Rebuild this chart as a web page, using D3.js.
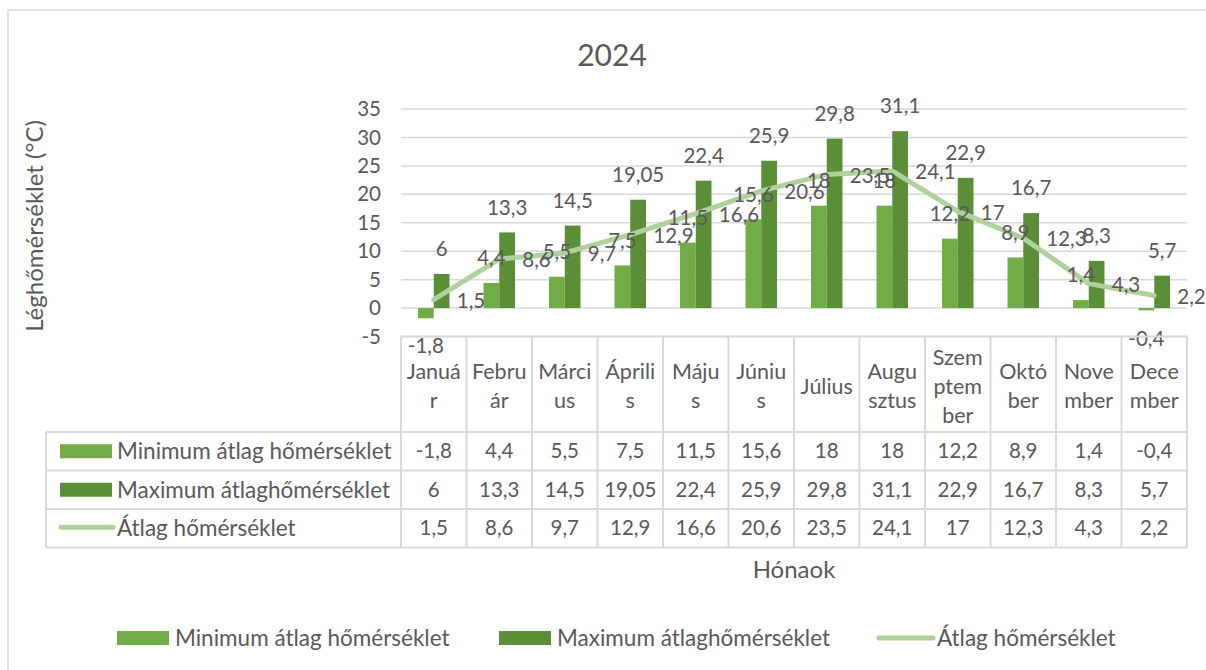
<!DOCTYPE html>
<html><head><meta charset="utf-8">
<script src="https://cdn.jsdelivr.net/npm/d3@7"></script>
<style>
html,body{margin:0;padding:0;background:#fff;}
svg{display:block;font-family:Lato,"Open Sans",sans-serif;}
</style></head>
<body>
<svg id="c" width="1206" height="670"></svg>
<script>
const title = "2024";
const months = ["Január","Február","Március","Április","Május","Június","Július","Augusztus","Szeptember","Október","November","December"];
const monthLines = [["Januá","r"],["Febru","ár"],["Márci","us"],["Áprili","s"],["Máju","s"],["Júniu","s"],["Július"],["Augu","sztus"],["Szem","ptem","ber"],["Októ","ber"],["Nove","mber"],["Dece","mber"]];
const seriesNames = ["Minimum átlag hőmérséklet","Maximum átlaghőmérséklet","Átlag hőmérséklet"];
const minTemp = [-1.8, 4.4, 5.5, 7.5, 11.5, 15.6, 18, 18, 12.2, 8.9, 1.4, -0.4];
const maxTemp = [6, 13.3, 14.5, 19.05, 22.4, 25.9, 29.8, 31.1, 22.9, 16.7, 8.3, 5.7];
const avgTemp = [1.5, 8.6, 9.7, 12.9, 16.6, 20.6, 23.5, 24.1, 17, 12.3, 4.3, 2.2];
const yTicks = [-5, 0, 5, 10, 15, 20, 25, 30, 35];
const yTitle = "Léghőmérséklet (°C)";
const xTitle = "Hónaok";

const colMin = "#70AD47", colMax = "#5B8F37", colAvg = "#B0D19C";
const txt = "#595959", grid = "#D9D9D9";
const fsNum = 20.5, fsCat = 21.5, fsName = 22.5, fsAxis = 24;
const fmt = v => String(v).replace(".", ",");

const svg = d3.select("#c");
// outer border
svg.append("rect").attr("x",8).attr("y",10).attr("width",1210).attr("height",680)
  .attr("fill","none").attr("stroke",grid).attr("stroke-width",1.5);

const L = 401, R = 1187;
const x = d3.scaleBand().domain(months).range([L, R]).padding(0);
const y = d3.scaleLinear().domain([-5, 35]).range([336.5, 109]);
const bw = 15.75;

// title
svg.append("text").attr("x", 612).attr("y", 66).attr("text-anchor","middle")
  .attr("font-size", 30).attr("fill", txt).text(title);

// gridlines
svg.append("g").selectAll("line").data(yTicks).join("line")
  .attr("x1", L).attr("x2", R).attr("y1", d=>y(d)).attr("y2", d=>y(d))
  .attr("stroke", grid).attr("stroke-width", 1.5);

// y axis labels
const yAxis = d3.axisLeft(y).tickValues(yTicks).tickSize(0).tickPadding(0).tickFormat(d=>fmt(d));
const ya = svg.append("g").attr("transform", `translate(381,0)`).call(yAxis);
ya.select(".domain").remove();
ya.selectAll("text").attr("font-size", fsNum).attr("fill", txt).attr("font-family","Lato,'Open Sans',sans-serif");

// y title
svg.append("text").attr("transform", `translate(35,226) rotate(-90)`).attr("text-anchor","middle")
  .attr("dy","0.35em").attr("font-size", fsAxis).attr("fill", txt).text(yTitle);

// bars
const bars = [minTemp, maxTemp];
const bcol = [colMin, colMax];
bars.forEach((arr, si) => {
  svg.append("g").selectAll("rect").data(arr).join("rect")
    .attr("x", (d,i)=> x(months[i]) + x.bandwidth()/2 - bw + si*bw)
    .attr("width", bw)
    .attr("y", d => y(Math.max(0,d)))
    .attr("height", d => Math.abs(y(d)-y(0)))
    .attr("fill", bcol[si]);
});

// line
const line = d3.line().x((d,i)=>x(months[i])+x.bandwidth()/2).y(d=>y(d));
svg.append("path").datum(avgTemp).attr("d", line).attr("fill","none")
  .attr("stroke", colAvg).attr("stroke-width", 5).attr("stroke-linecap","round").attr("stroke-linejoin","round");

// bar labels
bars.forEach((arr, si) => {
  svg.append("g").selectAll("text").data(arr).join("text")
    .attr("x", (d,i)=> x(months[i]) + x.bandwidth()/2 - bw/2 + si*bw)
    .attr("y", d => d >= 0 ? y(d) - 25 : y(d) + 28)
    .attr("dy", "0.35em")
    .attr("text-anchor","middle").attr("font-size", fsNum).attr("fill", txt)
    .text(d => fmt(d));
});
// line labels (right)
svg.append("g").selectAll("text").data(avgTemp).join("text")
  .attr("x", (d,i)=> x(months[i]) + x.bandwidth()/2 + 23)
  .attr("y", d => y(d) + 1)
  .attr("dy", "0.35em")
  .attr("font-size", fsNum).attr("fill", txt).text(d=>fmt(d));

// data table
const tb = svg.append("g");
const rowsY = [432, 470.5, 509, 547.5];
const topY = 336.5, leftX = 46;
const gl = (x1,y1,x2,y2) => tb.append("line").attr("x1",x1).attr("y1",y1).attr("x2",x2).attr("y2",y2)
  .attr("stroke", grid).attr("stroke-width", 2);
months.forEach((m,i)=> gl(x(m), topY, x(m), rowsY[3]));
gl(R, topY, R, rowsY[3]);
gl(leftX, rowsY[0], leftX, rowsY[3]);
rowsY.forEach(ry => gl(leftX, ry, R, ry));
gl(L, topY, R, topY);

// category labels
const lh = 29;
months.forEach((m,i) => {
  const lines = monthLines[i];
  const cy = (topY + rowsY[0]) / 2 + 2;
  const t = tb.append("text").attr("text-anchor","middle").attr("font-size", fsCat).attr("fill", txt);
  lines.forEach((s,k) => {
    t.append("tspan").attr("x", x(m)+x.bandwidth()/2)
      .attr("y", cy + (k - (lines.length-1)/2)*lh).attr("dy","0.35em").text(s);
  });
});

// table rows
const allSeries = [minTemp, maxTemp, avgTemp];
allSeries.forEach((arr, si) => {
  const cy = (rowsY[si] + rowsY[si+1]) / 2;
  if (si < 2) {
    tb.append("rect").attr("x", 60).attr("y", cy-7).attr("width", 52).attr("height", 14).attr("fill", bcol[si]);
  } else {
    tb.append("line").attr("x1", 61).attr("x2", 113).attr("y1", cy-1).attr("y2", cy-1)
      .attr("stroke", colAvg).attr("stroke-width", 5).attr("stroke-linecap","round");
  }
  tb.append("text").attr("x", 117).attr("y", cy).attr("dy","0.35em").attr("font-size", fsName).attr("fill", txt).text(seriesNames[si]);
  tb.append("g").selectAll("text").data(arr).join("text")
    .attr("x", (d,i)=> x(months[i]) + x.bandwidth()/2).attr("y", cy).attr("dy","0.35em")
    .attr("text-anchor","middle").attr("font-size", fsNum).attr("fill", txt).text(d=>fmt(d));
});

// x title
svg.append("text").attr("x", (L+R)/2).attr("y", 570).attr("dy","0.35em").attr("text-anchor","middle")
  .attr("font-size", fsAxis).attr("fill", txt).text(xTitle);

// legend
const lg = svg.append("g");
const legX = [117, 499, 878];
const ly = 638;
seriesNames.forEach((n, si) => {
  if (si < 2) {
    lg.append("rect").attr("x", legX[si]).attr("y", ly-7).attr("width", 52).attr("height", 14).attr("fill", bcol[si]);
  } else {
    lg.append("line").attr("x1", legX[si]+1).attr("x2", legX[si]+55).attr("y1", ly).attr("y2", ly)
      .attr("stroke", colAvg).attr("stroke-width", 5).attr("stroke-linecap","round");
  }
  lg.append("text").attr("x", legX[si] + (si<2 ? 58 : 59)).attr("y", ly).attr("dy","0.35em")
    .attr("font-size", fsName).attr("fill", txt).text(n);
});
</script>
</body></html>
